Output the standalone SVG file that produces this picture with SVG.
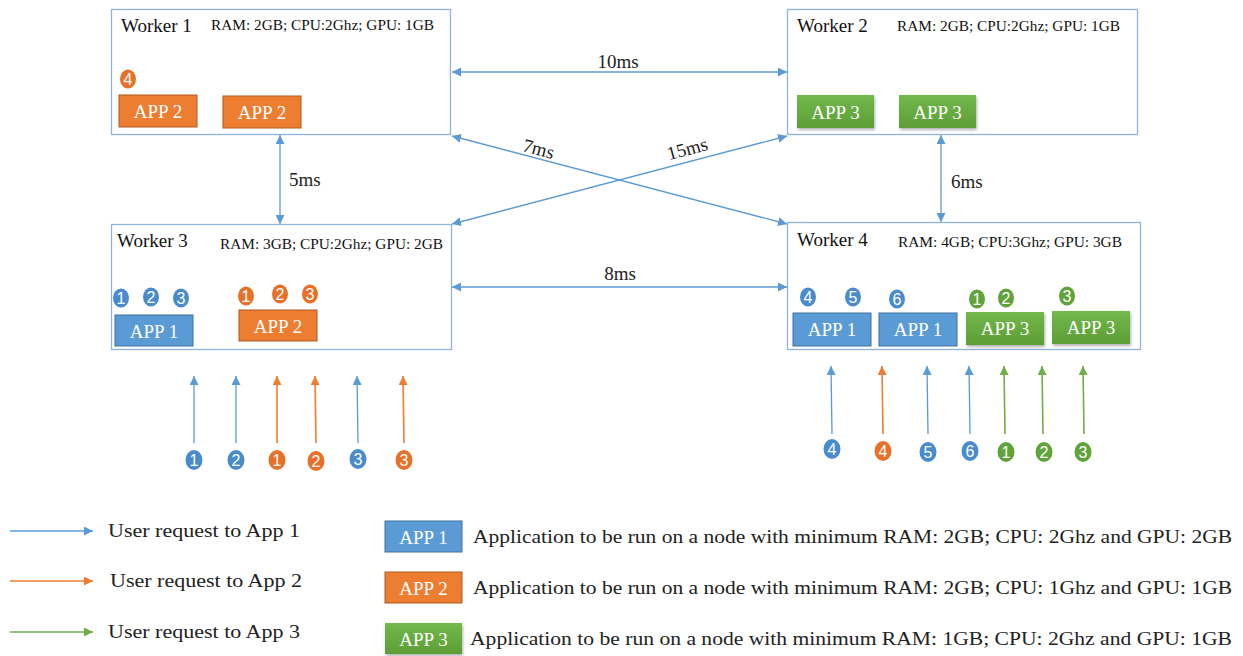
<svg xmlns="http://www.w3.org/2000/svg" width="1243" height="656" viewBox="0 0 1243 656">
<style>
.worker{fill:#fff;stroke:#8DB4DE;stroke-width:1.3}
.title{font-family:"Liberation Serif",serif;font-size:19px;fill:#111}
.spec{font-family:"Liberation Serif",serif;font-size:14.5px;fill:#111}
.lbl{font-family:"Liberation Serif",serif;font-size:19px;fill:#222}
.app{font-family:"Liberation Serif",serif;font-size:19px;fill:#fff;text-anchor:middle}
.b1{fill:#5B9BD5;stroke:#41719C;stroke-width:1}
.b2{fill:#ED7D31;stroke:#AE5A21;stroke-width:1}
.b3{fill:url(#gg);filter:url(#sh)}
.num{font-family:"Liberation Sans",sans-serif;font-size:16px;fill:#fff;text-anchor:middle}
.cb{fill:#4A8BCB}.co{fill:#E8712A}.cg{fill:#5FA33A}
.lb{stroke:#5B9BD5;stroke-width:1.3;fill:none}
.lo{stroke:#ED7D31;stroke-width:1.6;fill:none}
.lg{stroke:#70AD47;stroke-width:1.6;fill:none}
</style>
<defs>
<linearGradient id="gg" x1="0" y1="0" x2="0" y2="1"><stop offset="0" stop-color="#72B84B"/><stop offset="1" stop-color="#5C9E36"/></linearGradient>
<filter id="sh" x="-10%" y="-10%" width="130%" height="140%"><feDropShadow dx="1" dy="2" stdDeviation="1.5" flood-color="#000" flood-opacity="0.3"/></filter>
<marker id="ab" viewBox="0 0 10 10" refX="10" refY="5" markerWidth="9" markerHeight="9" markerUnits="userSpaceOnUse" orient="auto-start-reverse"><path d="M0,0L10,5L0,10z" fill="#5B9BD5"/></marker>
<marker id="ao" viewBox="0 0 10 10" refX="10" refY="5" markerWidth="9" markerHeight="9" markerUnits="userSpaceOnUse" orient="auto"><path d="M0,0L10,5L0,10z" fill="#ED7D31"/></marker>
<marker id="ag" viewBox="0 0 10 10" refX="10" refY="5" markerWidth="9" markerHeight="9" markerUnits="userSpaceOnUse" orient="auto"><path d="M0,0L10,5L0,10z" fill="#70AD47"/></marker>
</defs>
<rect width="1243" height="656" fill="#fff"/>

<g id="connectors">
<line class="lb" x1="452" y1="72" x2="787" y2="72" marker-start="url(#ab)" marker-end="url(#ab)"/>
<text class="lbl" x="618" y="68" text-anchor="middle">10ms</text>
<line class="lb" x1="452" y1="136" x2="787" y2="224" marker-start="url(#ab)" marker-end="url(#ab)"/>
<text class="lbl" x="537" y="155" text-anchor="middle" transform="rotate(15 537 155)">7ms</text>
<line class="lb" x1="452" y1="224" x2="787" y2="136" marker-start="url(#ab)" marker-end="url(#ab)"/>
<text class="lbl" x="689" y="155" text-anchor="middle" transform="rotate(-15 689 155)">15ms</text>
<line class="lb" x1="280" y1="135" x2="280" y2="224" marker-start="url(#ab)" marker-end="url(#ab)"/>
<text class="lbl" x="289" y="186">5ms</text>
<line class="lb" x1="941" y1="135" x2="941" y2="222" marker-start="url(#ab)" marker-end="url(#ab)"/>
<text class="lbl" x="951" y="188">6ms</text>
<line class="lb" x1="452" y1="287" x2="787" y2="287" marker-start="url(#ab)" marker-end="url(#ab)"/>
<text class="lbl" x="620" y="280" text-anchor="middle">8ms</text>

<line class="lb" x1="194" y1="443" x2="194" y2="376" marker-end="url(#ab)"/>
<line class="lb" x1="236" y1="443" x2="236" y2="376" marker-end="url(#ab)"/>
<line class="lo" x1="277" y1="443" x2="277" y2="376" marker-end="url(#ao)"/>
<line class="lo" x1="316" y1="443" x2="315" y2="376" marker-end="url(#ao)"/>
<line class="lb" x1="358" y1="443" x2="357" y2="376" marker-end="url(#ab)"/>
<line class="lo" x1="404" y1="443" x2="403" y2="376" marker-end="url(#ao)"/>

<line class="lb" x1="832" y1="434" x2="831" y2="366" marker-end="url(#ab)"/>
<line class="lo" x1="883" y1="434" x2="882" y2="366" marker-end="url(#ao)"/>
<line class="lb" x1="928" y1="434" x2="927" y2="366" marker-end="url(#ab)"/>
<line class="lb" x1="970" y1="434" x2="969" y2="366" marker-end="url(#ab)"/>
<line class="lg" x1="1005" y1="434" x2="1004" y2="366" marker-end="url(#ag)"/>
<line class="lg" x1="1043" y1="434" x2="1042" y2="366" marker-end="url(#ag)"/>
<line class="lg" x1="1084" y1="434" x2="1083" y2="366" marker-end="url(#ag)"/>
</g>

<g id="worker1">
<rect class="worker" x="111.5" y="9.5" width="339" height="125"/>
<text class="title" x="121" y="32">Worker 1</text>
<text class="spec" x="211" y="30" textLength="223" lengthAdjust="spacingAndGlyphs">RAM: 2GB; CPU:2Ghz; GPU: 1GB</text>
<ellipse class="co" cx="128" cy="79" rx="8" ry="9.5"/><text class="num" x="128" y="85">4</text>
<rect class="b2" x="119" y="95" width="78" height="32"/><text class="app" x="158" y="118">APP 2</text>
<rect class="b2" x="223" y="96" width="78" height="32"/><text class="app" x="262" y="119">APP 2</text>
</g>

<g id="worker2">
<rect class="worker" x="787.5" y="9.5" width="350" height="125"/>
<text class="title" x="797" y="32">Worker 2</text>
<text class="spec" x="897" y="31" textLength="223" lengthAdjust="spacingAndGlyphs">RAM: 2GB; CPU:2Ghz; GPU: 1GB</text>
<rect class="b3" x="797" y="95" width="77" height="33"/><text class="app" x="835.5" y="119">APP 3</text>
<rect class="b3" x="899" y="95" width="77" height="33"/><text class="app" x="937.5" y="119">APP 3</text>
</g>

<g id="worker3">
<rect class="worker" x="111.5" y="224.5" width="340" height="125"/>
<text class="title" x="117" y="247">Worker 3</text>
<text class="spec" x="220" y="249" textLength="223" lengthAdjust="spacingAndGlyphs">RAM: 3GB; CPU:2Ghz; GPU: 2GB</text>
<ellipse class="cb" cx="121" cy="298" rx="8" ry="9.5"/><text class="num" x="121" y="304">1</text>
<ellipse class="cb" cx="151" cy="297" rx="8" ry="9.5"/><text class="num" x="151" y="303">2</text>
<ellipse class="cb" cx="181" cy="298" rx="8" ry="9.5"/><text class="num" x="181" y="304">3</text>
<ellipse class="co" cx="246" cy="296" rx="8" ry="9.5"/><text class="num" x="246" y="302">1</text>
<ellipse class="co" cx="280" cy="294" rx="8" ry="9.5"/><text class="num" x="280" y="300">2</text>
<ellipse class="co" cx="310" cy="294" rx="8" ry="9.5"/><text class="num" x="310" y="300">3</text>
<rect class="b1" x="115" y="315" width="78" height="31"/><text class="app" x="154" y="338">APP 1</text>
<rect class="b2" x="239" y="310" width="78" height="31"/><text class="app" x="278" y="333">APP 2</text>
</g>

<g id="worker4">
<rect class="worker" x="787.5" y="222.5" width="353" height="127"/>
<text class="title" x="797" y="246">Worker 4</text>
<text class="spec" x="898" y="247" textLength="224" lengthAdjust="spacingAndGlyphs">RAM: 4GB; CPU:3Ghz; GPU: 3GB</text>
<ellipse class="cb" cx="808" cy="297" rx="8" ry="9.5"/><text class="num" x="808" y="303">4</text>
<ellipse class="cb" cx="853" cy="297" rx="8" ry="9.5"/><text class="num" x="853" y="303">5</text>
<ellipse class="cb" cx="897" cy="299" rx="8" ry="9.5"/><text class="num" x="897" y="305">6</text>
<ellipse class="cg" cx="977" cy="299" rx="8" ry="9.5"/><text class="num" x="977" y="305">1</text>
<ellipse class="cg" cx="1006" cy="298" rx="8" ry="9.5"/><text class="num" x="1006" y="304">2</text>
<ellipse class="cg" cx="1067" cy="296" rx="8" ry="9.5"/><text class="num" x="1067" y="302">3</text>
<rect class="b1" x="793" y="313" width="78" height="33"/><text class="app" x="832" y="336">APP 1</text>
<rect class="b1" x="879" y="313" width="78" height="33"/><text class="app" x="918" y="336">APP 1</text>
<rect class="b3" x="966" y="312" width="78" height="33"/><text class="app" x="1005" y="335">APP 3</text>
<rect class="b3" x="1052" y="311" width="78" height="33"/><text class="app" x="1091" y="334">APP 3</text>
</g>

<g id="requests-left">
<ellipse class="cb" cx="194" cy="460" rx="8.5" ry="10"/><text class="num" x="194" y="466">1</text>
<ellipse class="cb" cx="236" cy="460" rx="8.5" ry="10"/><text class="num" x="236" y="466">2</text>
<ellipse class="co" cx="277" cy="460" rx="8.5" ry="10"/><text class="num" x="277" y="466">1</text>
<ellipse class="co" cx="316" cy="461" rx="8.5" ry="10"/><text class="num" x="316" y="467">2</text>
<ellipse class="cb" cx="358" cy="459" rx="8.5" ry="10"/><text class="num" x="358" y="465">3</text>
<ellipse class="co" cx="404" cy="460" rx="8.5" ry="10"/><text class="num" x="404" y="466">3</text>
</g>

<g id="requests-right">
<ellipse class="cb" cx="832" cy="449" rx="8.5" ry="10"/><text class="num" x="832" y="455">4</text>
<ellipse class="co" cx="883" cy="451" rx="8.5" ry="10"/><text class="num" x="883" y="457">4</text>
<ellipse class="cb" cx="928" cy="452" rx="8.5" ry="10"/><text class="num" x="928" y="458">5</text>
<ellipse class="cb" cx="970" cy="451" rx="8.5" ry="10"/><text class="num" x="970" y="457">6</text>
<ellipse class="cg" cx="1006" cy="452" rx="8.5" ry="10"/><text class="num" x="1006" y="458">1</text>
<ellipse class="cg" cx="1044" cy="452" rx="8.5" ry="10"/><text class="num" x="1044" y="458">2</text>
<ellipse class="cg" cx="1083" cy="452" rx="8.5" ry="10"/><text class="num" x="1083" y="458">3</text>
</g>

<g id="legend-requests">
<line class="lb" x1="10" y1="531" x2="93" y2="531" marker-end="url(#ab)"/>
<text class="lbl" x="108" y="537" textLength="192" lengthAdjust="spacingAndGlyphs">User request to App 1</text>
<line class="lo" x1="10" y1="581" x2="93" y2="581" marker-end="url(#ao)"/>
<text class="lbl" x="110" y="587" textLength="192" lengthAdjust="spacingAndGlyphs">User request to App 2</text>
<line class="lg" x1="10" y1="632" x2="93" y2="632" marker-end="url(#ag)"/>
<text class="lbl" x="108" y="638" textLength="192" lengthAdjust="spacingAndGlyphs">User request to App 3</text>
</g>

<g id="legend-apps">
<rect class="b1" x="385" y="521" width="77" height="31"/><text class="app" x="423.5" y="544">APP 1</text>
<text class="lbl" x="473" y="543" textLength="759" lengthAdjust="spacingAndGlyphs">Application to be run on a node with minimum RAM: 2GB; CPU: 2Ghz and GPU: 2GB</text>
<rect class="b2" x="385" y="572" width="77" height="31"/><text class="app" x="423.5" y="595">APP 2</text>
<text class="lbl" x="473" y="594" textLength="759" lengthAdjust="spacingAndGlyphs">Application to be run on a node with minimum RAM: 2GB; CPU: 1Ghz and GPU: 1GB</text>
<rect class="b3" x="385" y="623" width="77" height="31"/><text class="app" x="423.5" y="646">APP 3</text>
<text class="lbl" x="470" y="645" textLength="762" lengthAdjust="spacingAndGlyphs">Application to be run on a node with minimum RAM: 1GB; CPU: 2Ghz and GPU: 1GB</text>
</g>
</svg>
